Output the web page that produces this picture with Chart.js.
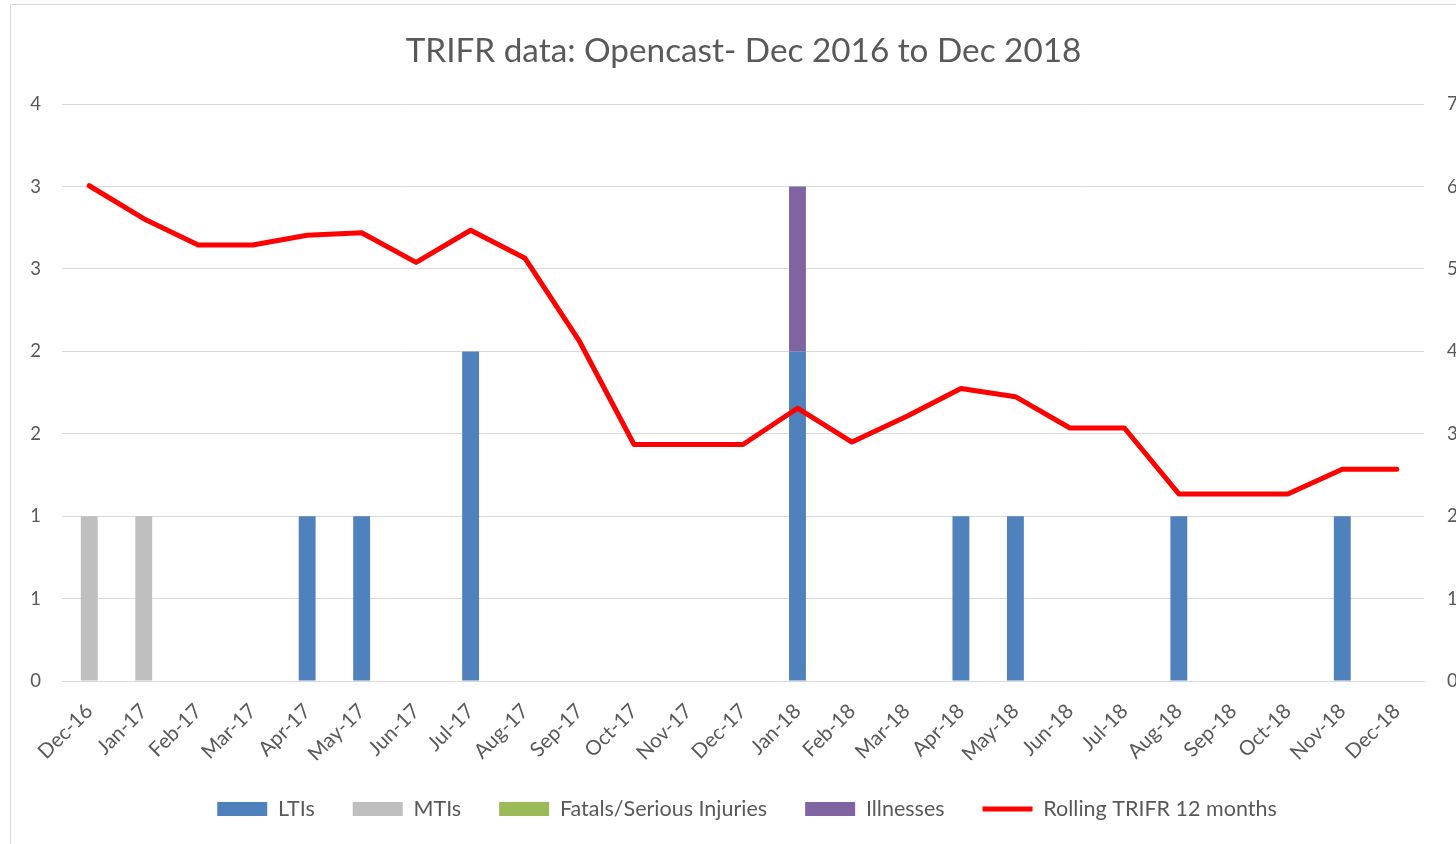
<!DOCTYPE html>
<html>
<head>
<meta charset="utf-8">
<script src="https://cdn.jsdelivr.net/npm/chart.js@4.4.1/dist/chart.umd.min.js"></script>
<style>
html,body{margin:0;padding:0;background:#fff;overflow:hidden;}
#wrap{position:relative;width:1456px;height:844px;}
canvas{display:block;}
</style>
</head>
<body>
<div id="wrap"><canvas id="c" width="1456" height="844"></canvas></div>
<script>
const categories = ["Dec-16","Jan-17","Feb-17","Mar-17","Apr-17","May-17","Jun-17","Jul-17","Aug-17","Sep-17","Oct-17","Nov-17","Dec-17","Jan-18","Feb-18","Mar-18","Apr-18","May-18","Jun-18","Jul-18","Aug-18","Sep-18","Oct-18","Nov-18","Dec-18"];
const ltis      = [0,0,0,0,1,1,0,2,0,0,0,0,0,2,0,0,1,1,0,0,1,0,0,1,0];
const mtis      = [1,1,0,0,0,0,0,0,0,0,0,0,0,0,0,0,0,0,0,0,0,0,0,0,0];
const fatals    = [0,0,0,0,0,0,0,0,0,0,0,0,0,0,0,0,0,0,0,0,0,0,0,0,0];
const illnesses = [0,0,0,0,0,0,0,0,0,0,0,0,0,1,0,0,0,0,0,0,0,0,0,0,0];
const rollingTrifr = [6.01,5.61,5.29,5.29,5.41,5.44,5.08,5.47,5.13,4.12,2.87,2.87,2.87,3.31,2.90,3.21,3.55,3.45,3.07,3.07,2.27,2.27,2.27,2.57,2.57];
const leftTickLabels  = ["0","1","1","2","2","3","3","4"];
const rightTickLabels = ["0","1","2","3","4","5","6","7"];
const seriesNames = ["LTIs","MTIs","Fatals/Serious Injuries","Illnesses","Rolling TRIFR 12 months"];
const legendStyles = ["rect","rect","rect","rect","line"];

const FONT = "Lato, 'Open Sans', sans-serif";
const TXT = "#595959";
const GRID = "#D9D9D9";

const borderPlugin = {
  id: 'outerBorder',
  afterLayout(chart){
    if (chart.titleBlock) chart.titleBlock.left += 31;
    if (chart.legend) chart.legend.left += 38;
  },
  beforeDraw(chart){
    const ctx = chart.ctx;
    ctx.save();
    ctx.strokeStyle = GRID;
    ctx.lineWidth = 1;
    ctx.beginPath();
    ctx.moveTo(10.5, 844);
    ctx.lineTo(10.5, 4.5);
    ctx.lineTo(1456, 4.5);
    ctx.stroke();
    ctx.restore();
  }
};

new Chart(document.getElementById('c'), {
  data: {
    labels: categories,
    datasets: [
      {type:'bar', label: seriesNames[0], data: ltis, backgroundColor:'#4F81BD', yAxisID:'y', stack:'s', borderWidth:0},
      {type:'bar', label: seriesNames[1], data: mtis, backgroundColor:'#BFBFBF', yAxisID:'y', stack:'s', borderWidth:0},
      {type:'bar', label: seriesNames[2], data: fatals, backgroundColor:'#9BBB59', yAxisID:'y', stack:'s', borderWidth:0},
      {type:'bar', label: seriesNames[3], data: illnesses, backgroundColor:'#8064A2', yAxisID:'y', stack:'s', borderWidth:0},
      {type:'line', label: seriesNames[4], data: rollingTrifr, borderColor:'#FF0000', backgroundColor:'#FF0000', borderWidth:5, pointRadius:0, tension:0, yAxisID:'y1', order:-1, borderCapStyle:'round', borderJoinStyle:'round'}
    ]
  },
  options: {
    responsive:false,
    animation:false,
    layout:{padding:{left:0,right:0,top:0,bottom:14.25}},
    datasets:{bar:{categoryPercentage:1, barPercentage:0.31}},
    plugins:{
      tooltip:{enabled:false},
      title:{display:true, text:"TRIFR data: Opencast- Dec 2016 to Dec 2018", color:TXT,
        font:{family:FONT, size:33.3, weight:'normal'}, padding:{top:31,bottom:33.2}},
      legend:{position:'bottom', labels:{
        usePointStyle:true, pointStyleWidth:50, boxHeight:14, padding:38, color:TXT,
        font:{family:FONT, size:21.5},
        sort:(a,b)=>a.datasetIndex-b.datasetIndex,
        generateLabels:(chart)=>{
          const items = Chart.defaults.plugins.legend.labels.generateLabels(chart);
          items.forEach(it=>{ it.pointStyle = legendStyles[it.datasetIndex]; if (it.datasetIndex<4) it.lineWidth = 0; });
          return items;
        }
      }}
    },
    scales:{
      x:{stacked:true, offset:true,
        grid:{display:false, drawTicks:false},
        border:{display:true, color:GRID},
        ticks:{autoSkip:false, maxRotation:45, minRotation:45, color:TXT, font:{family:FONT,size:20.5}, padding:18},
        afterFit:(s)=>{ s.height = 79.25; }
      },
      y:{stacked:true, position:'left', min:0, max:3.5,
        grid:{color:GRID, drawTicks:false, lineWidth:1},
        border:{display:false},
        ticks:{stepSize:0.5, color:TXT, font:{family:FONT,size:18.5}, padding:21,
          callback:(v,i)=>leftTickLabels[i]},
        afterFit:(s)=>{ s.width = 62; }
      },
      y1:{position:'right', min:0, max:7,
        grid:{display:false, drawTicks:false},
        border:{display:false},
        ticks:{stepSize:1, color:TXT, font:{family:FONT,size:18.5}, padding:23,
          callback:(v,i)=>rightTickLabels[i]},
        afterFit:(s)=>{ s.width = 32; }
      }
    }
  },
  plugins:[borderPlugin]
});
</script>
</body>
</html>
